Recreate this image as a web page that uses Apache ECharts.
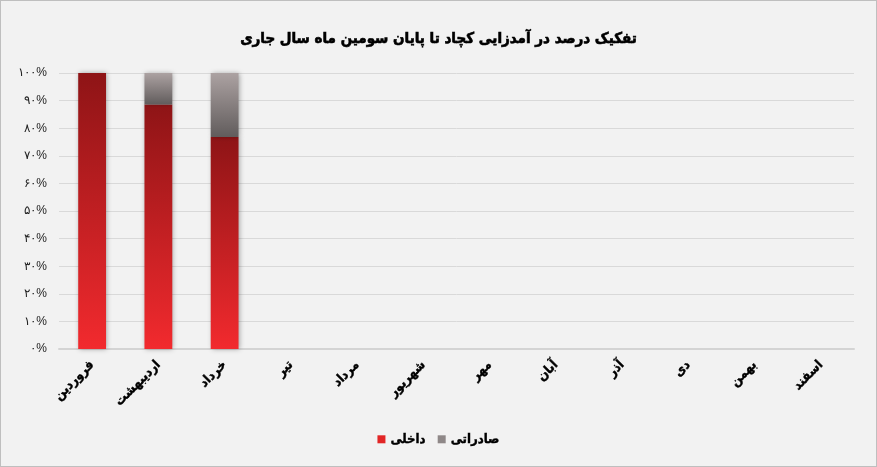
<!DOCTYPE html>
<html>
<head>
<meta charset="utf-8">
<script src="https://cdn.jsdelivr.net/npm/echarts@6/dist/echarts.min.js"></script>
<style>
html, body { margin: 0; padding: 0; background: #fff; }
#main { width: 875px; height: 465px; border: 1px solid #bfbfbf; background: #f2f2f2; }
</style>
</head>
<body>
<div id="main"></div>
<script>
var months = ['فروردین', 'اردیبهشت', 'خرداد', 'تیر', 'مرداد', 'شهریور', 'مهر', 'آبان', 'آذر', 'دی', 'بهمن', 'اسفند'];
var domestic = [100, 88.6, 76.8, null, null, null, null, null, null, null, null, null];
var exported = [0, 11.4, 23.2, null, null, null, null, null, null, null, null, null];
var seriesNames = ['داخلی', 'صادراتی'];
var titleText = 'تفکیک درصد در آمدزایی کچاد تا پایان سومین ماه سال جاری';

var faDigits = '۰۱۲۳۴۵۶۷۸۹';
function toFa(n) {
    return String(n).replace(/[0-9]/g, function (d) { return faDigits[+d]; });
}

var font = 'DejaVu Sans Condensed';
var chart = echarts.init(document.getElementById('main'));

var redFill = new echarts.graphic.LinearGradient(0, 0, 0, 1, [
    { offset: 0, color: '#8e1416' },
    { offset: 1, color: '#f22a2e' }
]);
var grayFill = new echarts.graphic.LinearGradient(0, 0, 0, 1, [
    { offset: 0, color: '#aca2a2' },
    { offset: 1, color: '#615c5c' }
]);

chart.setOption({
    backgroundColor: '#f2f2f2',
    animation: false,
    title: {
        text: titleText,
        left: 'center',
        top: 26,
        textStyle: {
            fontSize: 15, fontWeight: 'bold', color: '#000', fontFamily: font,
            textBorderColor: '#000', textBorderWidth: 0.6
        }
    },
    legend: {
        bottom: 15,
        left: 'center',
        icon: 'rect',
        itemWidth: 8,
        itemHeight: 8,
        itemGap: 12,
        data: [
            { name: seriesNames[0], itemStyle: { color: '#e22626' } },
            { name: seriesNames[1], itemStyle: { color: '#8f8888' } }
        ],
        textStyle: {
            fontSize: 13, fontWeight: 'bold', color: '#000', fontFamily: font,
            textBorderColor: '#000', textBorderWidth: 0.4
        }
    },
    grid: { left: 58, right: 22, top: 72, bottom: 117 },
    xAxis: {
        type: 'category',
        data: months,
        axisLine: { lineStyle: { color: '#d4d4d4', width: 2 } },
        axisTick: { show: false },
        axisLabel: {
            rotate: 45, fontSize: 13, fontWeight: 'bold', color: '#000', margin: 14, interval: 0,
            fontFamily: font, textBorderColor: '#000', textBorderWidth: 0.4
        }
    },
    yAxis: {
        type: 'value',
        min: 0,
        max: 100,
        interval: 10,
        axisLine: { show: false },
        axisTick: { show: false },
        splitLine: { lineStyle: { color: '#d9d9d9', width: 1 } },
        axisLabel: {
            fontSize: 12,
            color: '#222',
            margin: 12,
            formatter: function (v) { return toFa(v) + '%'; }
        }
    },
    series: [
        {
            name: seriesNames[0],
            type: 'bar',
            stack: 'total',
            barWidth: '42%',
            data: domestic,
            itemStyle: {
                color: redFill,
                shadowBlur: 5,
                shadowColor: 'rgba(0,0,0,0.35)',
                shadowOffsetX: 1
            }
        },
        {
            name: seriesNames[1],
            type: 'bar',
            stack: 'total',
            barWidth: '42%',
            data: exported,
            itemStyle: {
                color: grayFill,
                shadowBlur: 5,
                shadowColor: 'rgba(0,0,0,0.35)',
                shadowOffsetX: 1
            }
        }
    ]
});

window.addEventListener('resize', function () {
    chart.resize();
});
</script>
</body>
</html>
